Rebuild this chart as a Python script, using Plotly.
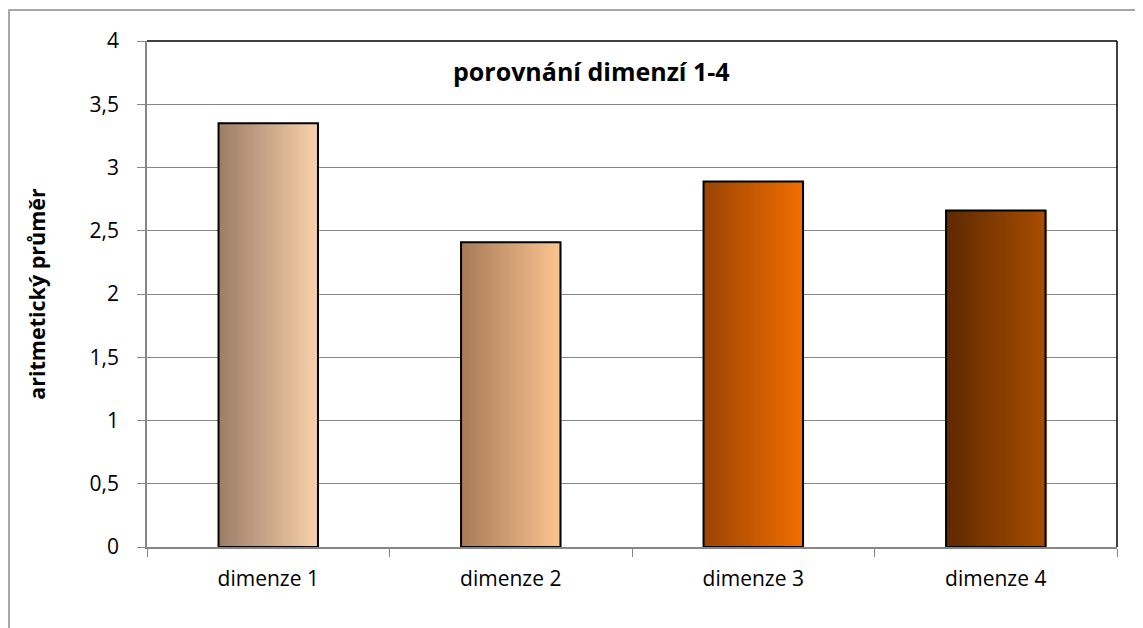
import plotly.graph_objects as go

categories = ["dimenze 1", "dimenze 2", "dimenze 3", "dimenze 4"]
values = [3.35, 2.41, 2.89, 2.66]
grad_left = ["#9B7D67", "#A87A57", "#9A4404", "#5E2900"]
grad_right = ["#FAD1AB", "#FCC590", "#F26E00", "#A84D00"]
y_ticks = [0, 0.5, 1, 1.5, 2, 2.5, 3, 3.5, 4]

title_text = "porovnání dimenzí 1-4"
y_title = "aritmetický průměr"

FONT = "'Open Sans', Lato, sans-serif"
BAR_W = 0.41
N = 30

W, H = 1135, 620
L, R, T, B = 139, 26, 33, 81
PW, PH = W - L - R, H - T - B


def hex2rgb(h):
    h = h.lstrip("#")
    return tuple(int(h[i:i + 2], 16) for i in (0, 2, 4))


def mix(a, b, t):
    ra, rb = hex2rgb(a), hex2rgb(b)
    return "rgb(%d,%d,%d)" % tuple(round(ra[k] + (rb[k] - ra[k]) * t) for k in range(3))


fig = go.Figure()
step = BAR_W / N
for i in range(N):
    t = (i + 0.5) / N
    fig.add_trace(go.Bar(
        x=categories, y=values,
        width=step * 1.35, offset=-BAR_W / 2 + i * step,
        marker=dict(color=[mix(l, r, t) for l, r in zip(grad_left, grad_right)],
                    line=dict(width=0)),
        showlegend=False, hoverinfo="skip",
    ))
# outline
fig.add_trace(go.Bar(
    x=categories, y=values, width=BAR_W, offset=-BAR_W / 2,
    marker=dict(color="rgba(0,0,0,0)", line=dict(color="black", width=2)),
    showlegend=False,
))

fig.update_layout(
    width=W, height=H,
    margin=dict(l=L, r=R, t=T, b=B),
    paper_bgcolor="white", plot_bgcolor="white",
    barmode="overlay",
    separators=", ",
    font=dict(family=FONT, size=21, color="black"),
    showlegend=False,
    xaxis=dict(
        showline=True, linecolor="#868686", linewidth=1.5,
        ticks="outside", tickson="boundaries", ticklen=8, tickcolor="#868686",
        tickfont=dict(size=21), showgrid=False, ticklabelstandoff=12,
    ),
    yaxis=dict(
        range=[0, 4], tickvals=y_ticks,
        showline=True, linecolor="#868686", linewidth=1.5,
        ticks="outside", ticklen=8, tickcolor="#868686",
        showgrid=True, gridcolor="#868686", gridwidth=1,
        zeroline=False, ticklabelstandoff=14,
        tickfont=dict(size=21),
        title=dict(text="<b>" + y_title + "</b>", font=dict(size=21.5), standoff=38),
    ),
    annotations=[dict(
        text="<b>" + title_text + "</b>", x=(583 - L) / PW, y=(H - B - 63) / PH,
        xref="paper", yref="paper",
        showarrow=False, font=dict(size=25, family=FONT), xanchor="center", yanchor="middle",
    )],
    shapes=[
        dict(type="line", xref="paper", yref="paper", x0=0, x1=1, y0=1, y1=1,
             line=dict(color="black", width=1.5)),
        dict(type="line", xref="paper", yref="paper", x0=1, x1=1, y0=0, y1=1,
             line=dict(color="black", width=1.5)),
        dict(type="rect", xref="paper", yref="paper",
             x0=(1 - L) / PW, x1=1.2,
             y0=-0.5, y1=(H - B - 2) / PH,
             line=dict(color="#8C8C8C", width=1.5), fillcolor="rgba(0,0,0,0)", layer="below"),
    ],
)

fig.write_html("out.html")
